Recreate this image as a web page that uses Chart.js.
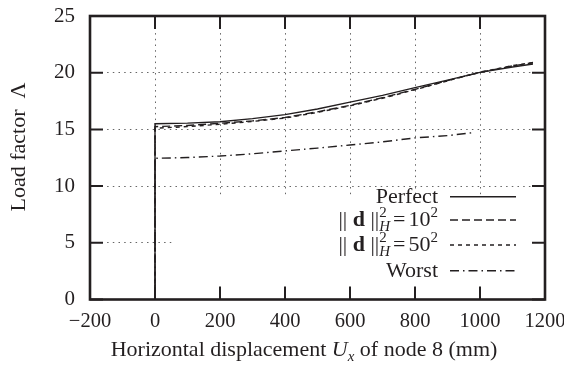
<!DOCTYPE html>
<html>
<head>
<meta charset="utf-8">
<script src="https://cdn.jsdelivr.net/npm/chart.js@4/dist/chart.umd.min.js"></script>
<style>
  html, body { margin: 0; padding: 0; background: #fff; }
  #wrap { width: 564px; height: 375px; }
</style>
</head>
<body>
<div id="wrap"><canvas id="loadChart" width="564" height="375"></canvas></div>
<script>
// ---- data ----
const dispPerfect = [0, 0, 100, 200, 300, 400, 500, 600, 700, 800, 900, 1000, 1100, 1163];
const loadPerfect = [0, 15.5, 15.55, 15.68, 15.95, 16.3, 16.8, 17.4, 18.0, 18.68, 19.35, 20.03, 20.5, 20.77];

const dispD10 = [0, 0, 100, 200, 300, 400, 500, 600, 700, 800, 900, 1000, 1100, 1163];
const loadD10 = [0, 15.24, 15.35, 15.54, 15.75, 16.05, 16.55, 17.12, 17.8, 18.53, 19.3, 20.03, 20.6, 20.88];

const dispD50 = [0, 0, 100, 200, 300, 400, 500, 600, 700, 800, 900, 1000, 1100, 1163];
const loadD50 = [0, 15.1, 15.25, 15.45, 15.7, 16.0, 16.5, 17.08, 17.75, 18.5, 19.28, 20.05, 20.62, 20.9];

const dispWorst = [0, 0, 100, 200, 300, 400, 500, 600, 700, 800, 900, 975];
const loadWorst = [0, 12.45, 12.52, 12.65, 12.85, 13.1, 13.35, 13.62, 13.9, 14.25, 14.45, 14.7];

const xTicks = [-200, 0, 200, 400, 600, 800, 1000, 1200];
const yTicks = [0, 5, 10, 15, 20, 25];

const INK = '#231f20';
const SERIF = '"Liberation Serif", "DejaVu Serif", serif';
const pts = (xs, ys) => xs.map((x, i) => ({ x: x, y: ys[i] }));

// порядок как в легенде
const series = [
    { label: 'Perfect', data: pts(dispPerfect, loadPerfect), dash: [] },
    { label: 'd10', data: pts(dispD10, loadD10), dash: [8, 4] },
    { label: 'd50', data: pts(dispD50, loadD50), dash: [4, 4] },
    { label: 'Worst', data: pts(dispWorst, loadWorst), dash: [9, 4, 1.5, 4] }
];

// draws a run of text pieces with mixed fonts, right aligned at xr
function drawRuns(ctx, runs, xr, base) {
    let w = 0;
    runs.forEach(r => {
        if (r.stack) {
            r.w = Math.max(...r.stack.map(s => { ctx.font = s.font; return ctx.measureText(s.t).width; }));
        } else {
            ctx.font = r.font;
            r.w = ctx.measureText(r.t).width;
        }
        w += r.w + (r.gap || 0);
    });
    let x = xr - w;
    runs.forEach(r => {
        if (r.stack) {
            r.stack.forEach(s => { ctx.font = s.font; ctx.fillText(s.t, x, base + s.dy); });
        } else {
            ctx.font = r.font;
            ctx.fillText(r.t, x, base + (r.dy || 0));
        }
        x += r.w + (r.gap || 0);
    });
    return w;
}

const REG = '22px ' + SERIF;
const BOLD = 'bold 22px ' + SERIF;
const ITAL = 'italic 22px ' + SERIF;
const SMALL = '15px ' + SERIF;
const SMALL_IT = 'italic 15px ' + SERIF;

function normRuns(n) {
    return [
        { t: '|| ', font: REG },
        { t: 'd', font: BOLD },
        { t: ' ||', font: REG },
        { stack: [{ t: '2', font: SMALL, dy: -9 }, { t: 'H', font: SMALL_IT, dy: 5 }], gap: 3 },
        { t: '=', font: REG, gap: 3 },
        { t: n, font: REG },
        { t: '2', font: SMALL, dy: -9 }
    ];
}

const gnuFrame = {
    id: 'gnuFrame',
    beforeDatasetsDraw(chart) {
        // opaque key box hides the grid under it
        const { ctx, chartArea: a, scales: { x, y } } = chart;
        const left = x.getPixelForValue(52);
        const top = y.getPixelForValue(9.05);
        ctx.save();
        ctx.fillStyle = '#fff';
        ctx.fillRect(left, top, a.right - left, a.bottom - top);
        ctx.restore();
    },
    afterDraw(chart) {
        const { ctx, chartArea: a, scales: { x, y } } = chart;
        ctx.save();
        ctx.strokeStyle = INK;
        ctx.fillStyle = INK;

        // inward ticks on all four sides
        ctx.lineWidth = 2;
        const tl = 13;
        xTicks.forEach(v => {
            const px = x.getPixelForValue(v);
            ctx.beginPath();
            ctx.moveTo(px, a.bottom); ctx.lineTo(px, a.bottom - tl);
            ctx.moveTo(px, a.top); ctx.lineTo(px, a.top + tl);
            ctx.stroke();
        });
        yTicks.forEach(v => {
            const py = y.getPixelForValue(v);
            ctx.beginPath();
            ctx.moveTo(a.left, py); ctx.lineTo(a.left + tl, py);
            ctx.moveTo(a.right, py); ctx.lineTo(a.right - tl, py);
            ctx.stroke();
        });

        // frame
        ctx.lineWidth = 2.6;
        ctx.strokeRect(a.left, a.top, a.right - a.left, a.bottom - a.top);

        // key
        const rowY = [196.7, 220, 245, 270.7];
        const xr = 438, l0 = 450, l1 = 516;
        ctx.textBaseline = 'alphabetic';
        series.forEach((s, i) => {
            ctx.lineWidth = 1.4;
            ctx.setLineDash(s.dash);
            ctx.beginPath();
            ctx.moveTo(l0, rowY[i]); ctx.lineTo(l1, rowY[i]);
            ctx.stroke();
            ctx.setLineDash([]);
            const base = rowY[i] + 6;
            if (i === 0) drawRuns(ctx, [{ t: 'Perfect', font: REG }], xr, base);
            if (i === 1) drawRuns(ctx, normRuns('10'), xr, base);
            if (i === 2) drawRuns(ctx, normRuns('50'), xr, base);
            if (i === 3) drawRuns(ctx, [{ t: 'Worst', font: REG }], xr, base);
        });

        // axis titles
        ctx.textAlign = 'left';
        const xRuns = [
            { t: 'Horizontal displacement ', font: REG },
            { t: 'U', font: ITAL },
            { t: 'x', font: SMALL_IT, dy: 5 },
            { t: ' of node 8 (mm)', font: REG }
        ];
        let w = 0;
        xRuns.forEach(r => { ctx.font = r.font; w += ctx.measureText(r.t).width; });
        drawRuns(ctx, xRuns, 304 + w / 2, 356);

        ctx.translate(25, 147);
        ctx.rotate(-Math.PI / 2);
        ctx.font = REG;
        ctx.textAlign = 'center';
        ctx.fillText('Load factor  \u039B', 0, 0);
        ctx.restore();
    }
};

const chart = new Chart(document.getElementById('loadChart'), {
    type: 'scatter',
    data: {
        datasets: series.map(s => ({
            label: s.label,
            data: s.data,
            showLine: true,
            borderColor: INK,
            borderWidth: 1.4,
            borderDash: s.dash,
            pointRadius: 0,
            tension: 0,
            fill: false
        }))
    },
    options: {
        responsive: false,
        animation: false,
        events: [],
        layout: { padding: { left: 0, right: 19, top: 16, bottom: 0 } },
        plugins: { legend: { display: false }, tooltip: { enabled: false } },
        scales: {
            x: {
                type: 'linear', min: -200, max: 1200,
                afterFit: s => { s.height = 75.5; s.paddingLeft = 0; s.paddingRight = 0; },
                afterBuildTicks: s => { s.ticks = xTicks.map(v => ({ value: v })); },
                grid: { color: '#666', lineWidth: 1, drawTicks: false },
                border: { display: false, dash: [1.5, 4.2] },
                ticks: {
                    color: INK, padding: 10, maxRotation: 0,
                    font: { family: SERIF, size: 20.5 },
                    callback: v => String(v).replace('-', '\u2212')
                }
            },
            y: {
                type: 'linear', min: 0, max: 25,
                afterFit: s => { s.width = 90; s.paddingTop = 0; s.paddingBottom = 0; },
                afterBuildTicks: s => { s.ticks = yTicks.map(v => ({ value: v })); },
                grid: { color: '#666', lineWidth: 1, drawTicks: false },
                border: { display: false, dash: [1.5, 4.2] },
                ticks: {
                    color: INK, padding: 15,
                    font: { family: SERIF, size: 21 }
                }
            }
        }
    },
    plugins: [gnuFrame]
});
</script>
</body>
</html>
